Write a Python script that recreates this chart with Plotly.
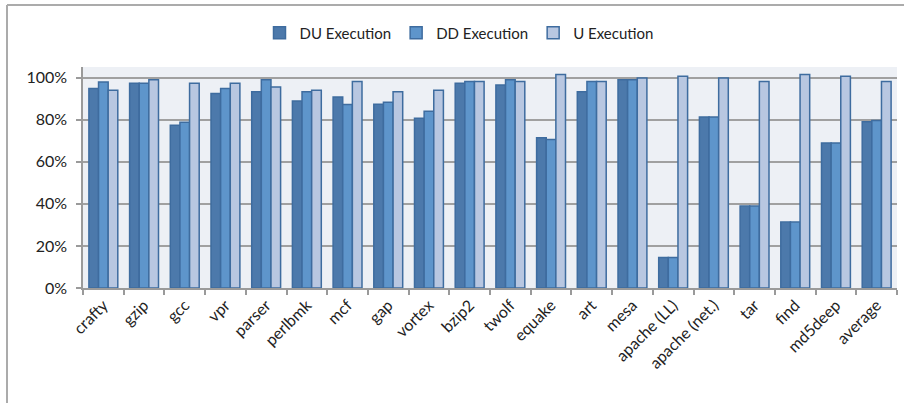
import plotly.graph_objects as go

categories = ["crafty", "gzip", "gcc", "vpr", "parser", "perlbmk", "mcf", "gap", "vortex",
              "bzip2", "twolf", "equake", "art", "mesa", "apache (LL)", "apache (net.)",
              "tar", "find", "md5deep", "average"]
du_exec = [94.8, 97.3, 77.3, 92.4, 93.2, 88.9, 90.7, 87.3, 80.7, 97.3, 96.5, 71.4, 93.2, 98.9,
           14.5, 81.3, 38.9, 31.3, 68.9, 79.0]
dd_exec = [97.9, 97.3, 78.8, 94.8, 98.9, 93.2, 87.2, 88.2, 84.0, 98.1, 98.9, 70.6, 98.1, 98.9,
           14.5, 81.3, 38.9, 31.3, 68.9, 79.6]
u_exec = [94.0, 98.9, 97.3, 97.3, 95.5, 94.0, 98.1, 93.2, 94.0, 98.1, 98.1, 101.4, 98.1, 99.8,
          100.6, 99.8, 98.1, 101.4, 100.6, 98.1]
y_ticks = [0, 20, 40, 60, 80, 100]
y_tick_labels = ["0%", "20%", "40%", "60%", "80%", "100%"]

W, H = 904, 403
ML, MR, MT, MB = 83, 7, 67, 115
pw, ph = W - ML - MR, H - MT - MB

def px_x(px):
    return (px - ML) / pw

def px_y(py):
    return (H - MB - py) / ph

outline = "#3E6C9F"
fig = go.Figure()
for name, vals, col in [("DU Execution", du_exec, "#4C79AB"),
                        ("DD Execution", dd_exec, "#5E95CB"),
                        ("U Execution", u_exec, "#B8C7E1")]:
    fig.add_trace(go.Bar(x=categories, y=vals, name=name,
                         marker=dict(color=col, line=dict(color=outline, width=1.5))))

font = "Lato, 'Open Sans', sans-serif"
fig.update_layout(
    width=W, height=H,
    margin=dict(l=ML, r=MR, t=MT, b=MB),
    paper_bgcolor="white", plot_bgcolor="#EDF0F5",
    barmode="group", bargap=0.29, bargroupgap=0,
    font=dict(family=font, size=15, color="#222222"),
    legend=dict(orientation="h", x=px_x(459), xanchor="center", y=px_y(33), yanchor="middle",
                font=dict(size=15, color="#222222"), itemwidth=30, traceorder="normal"),
    xaxis=dict(tickangle=-45, showline=True, linecolor="#9A9A9A", linewidth=1.5,
               ticks="outside", tickson="boundaries", ticklen=5, tickcolor="#9A9A9A",
               tickwidth=1.5, showgrid=False, tickfont=dict(size=16)),
    yaxis=dict(range=[0, 105], tickmode="array", tickvals=y_ticks, ticktext=y_tick_labels,
               showline=True, ticklabelstandoff=6,
               linecolor="#9A9A9A", linewidth=1.5, ticks="outside", ticklen=5,
               tickcolor="#9A9A9A", tickwidth=1.5, gridcolor="#A0A0A0", gridwidth=1.5,
               zeroline=False, tickfont=dict(size=16)),
    shapes=[
        dict(type="line", xref="paper", yref="paper", x0=px_x(7), x1=px_x(904),
             y0=px_y(5), y1=px_y(5), line=dict(color="#ABABAB", width=2)),
        dict(type="line", xref="paper", yref="paper", x0=px_x(7), x1=px_x(7),
             y0=px_y(5), y1=px_y(403), line=dict(color="#ABABAB", width=2)),
    ],
)

fig.write_html("out.html")
